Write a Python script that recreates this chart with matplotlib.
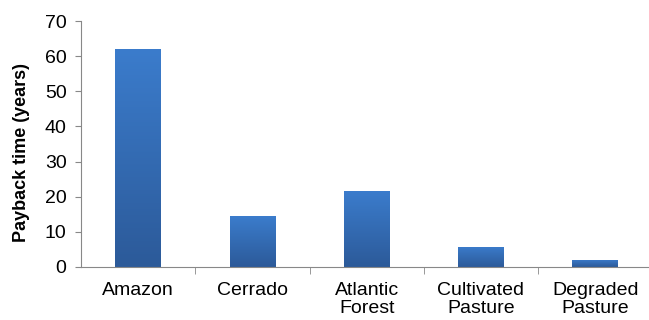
import numpy as np
import matplotlib.pyplot as plt
from matplotlib.colors import LinearSegmentedColormap

plt.rcParams['font.family'] = ['Liberation Sans', 'DejaVu Sans']

# data
categories = ['Amazon', 'Cerrado', 'Atlantic\nForest', 'Cultivated\nPasture', 'Degraded\nPasture']
payback_years = [62.0, 14.5, 21.5, 5.7, 2.0]
y_ticks = [0, 10, 20, 30, 40, 50, 60, 70]

fig = plt.figure(figsize=(6.49, 3.2), dpi=100)
ax = fig.add_axes([0.125, 0.166, 0.88, 0.768])

x = np.arange(len(categories))
bars = ax.bar(x, payback_years, width=0.4, color='none', edgecolor='none', zorder=2)

# vertical gradient fill, lighter at the top like the Excel original
cmap = LinearSegmentedColormap.from_list('bar', ['#2c5a99', '#3b7ccc'])
grad = np.linspace(0, 1, 256).reshape(-1, 1)
for b in bars:
    x0, y0 = b.get_x(), b.get_y()
    w, h = b.get_width(), b.get_height()
    im = ax.imshow(grad, cmap=cmap, origin='lower', aspect='auto',
                   extent=[x0, x0 + w, y0, y0 + h], zorder=2)
    im.set_clip_path(b)

ax.set_xlim(-0.5, len(categories) - 0.5)
ax.set_ylim(0, 70)
ax.set_yticks(y_ticks)
ax.set_xticks(x)
ax.set_xticklabels(categories, linespacing=1.1)
ax.set_xticks(np.arange(0.5, len(categories) - 0.5, 1), minor=True)
ax.tick_params(axis='x', which='major', length=0, pad=11, labelsize=14)
ax.tick_params(axis='x', which='minor', length=5, color='#888888', direction='out')
ax.tick_params(axis='y', length=4.5, color='#888888', labelsize=14, pad=6)
ax.set_ylabel('Payback time (years)', fontsize=13, fontweight='bold')
ax.yaxis.set_label_coords(-0.089, 0.465)

for side in ['top', 'right']:
    ax.spines[side].set_visible(False)
for side in ['left', 'bottom']:
    ax.spines[side].set_color('#888888')

plt.savefig('out.png', dpi=100)
